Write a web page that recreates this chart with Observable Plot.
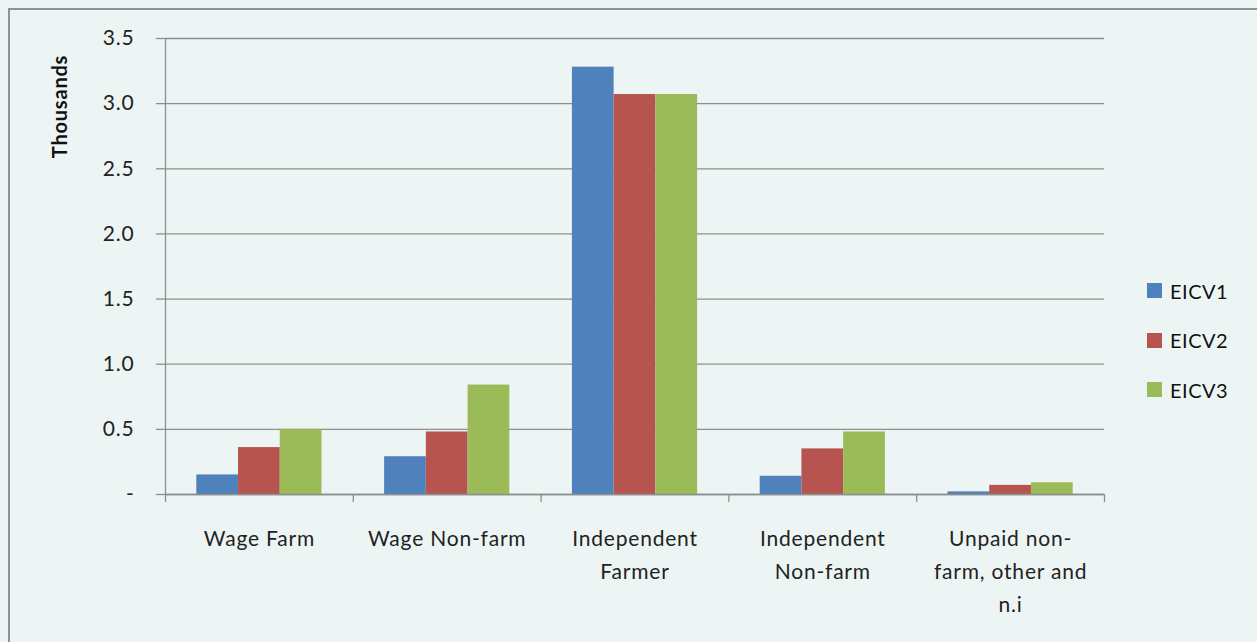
<!DOCTYPE html>
<html>
<head>
<meta charset="utf-8">
<script src="https://cdn.jsdelivr.net/npm/d3@7"></script>
<script src="https://cdn.jsdelivr.net/npm/@observablehq/plot@0.6"></script>
<style>
  html, body { margin: 0; padding: 0; background: #edf5f4; overflow: hidden; }
  body { width: 1257px; height: 642px; position: relative; font-family: Lato, "Open Sans", sans-serif; }
  #frame { position: absolute; left: 8px; top: 8px; width: 1400px; height: 800px; border: 2px solid #8e9494; box-sizing: border-box; }
  #chart { position: absolute; left: 0; top: 0; }
  #legend { position: absolute; left: 1147px; top: 266px; font-size: 20px; color: #111; letter-spacing: 0.5px; }
  .item { display: flex; align-items: center; height: 49.5px; }
  .sw { width: 15px; height: 15px; margin-right: 8px; }
</style>
</head>
<body>
<div id="frame"></div>
<div id="chart"></div>
<div id="legend"></div>
<script>
const categories = ["Wage Farm", "Wage Non-farm", "Independent Farmer", "Independent Non-farm", "Unpaid non-farm, other and n.i"];
const categoryLabels = ["Wage Farm", "Wage Non-farm", "Independent\nFarmer", "Independent\nNon-farm", "Unpaid non-\nfarm, other and\nn.i"];
const series = ["EICV1", "EICV2", "EICV3"];
const colors = ["#4f81bd", "#b85450", "#9bbb59"];
const eicv1 = [0.15, 0.29, 3.28, 0.14, 0.02];
const eicv2 = [0.36, 0.48, 3.07, 0.35, 0.07];
const eicv3 = [0.50, 0.84, 3.07, 0.48, 0.09];
const yTicks = [0, 0.5, 1.0, 1.5, 2.0, 2.5, 3.0, 3.5];

const valuesBySeries = [eicv1, eicv2, eicv3];
const data = [];
categories.forEach((c, ci) => {
  series.forEach((s, si) => {
    data.push({category: c, ci, series: s, si, value: valuesBySeries[si][ci]});
  });
});

// group occupies 2/3 of each category slot, centred
const groupPad = 1 / 6;
const barW = (1 - 2 * groupPad) / series.length;

const axisColor = "#8c8f8f";

const chart = Plot.plot({
  width: 1257,
  height: 642,
  marginLeft: 165,
  marginRight: 153,
  marginTop: 38,
  marginBottom: 148,
  style: {background: "transparent", fontFamily: "Lato, 'Open Sans', sans-serif", fontSize: "21px", color: "#222", letterSpacing: "0.8px"},
  x: {type: "linear", domain: [0, categories.length], axis: null},
  y: {domain: [0, 3.5], axis: null},
  color: {domain: series, range: colors},
  marks: [
    Plot.gridY(yTicks, {stroke: axisColor, strokeOpacity: 1, strokeWidth: 1.3}),
    Plot.axisY({ticks: yTicks, tickSize: 9, tickPadding: 22, stroke: axisColor, strokeWidth: 1.3,
      tickFormat: d => d === 0 ? "-" : d.toFixed(1), fontSize: 21, fill: "#222", label: null}),
    Plot.rectY(data, {
      x1: d => d.ci + groupPad + d.si * barW,
      x2: d => d.ci + groupPad + (d.si + 1) * barW,
      y: "value",
      fill: "series"
    }),
    Plot.ruleX([0], {stroke: axisColor, strokeWidth: 1.3}),
    Plot.ruleY([0], {stroke: axisColor, strokeWidth: 1.3}),
    Plot.axisX({ticks: d3.range(0, categories.length + 1), tickSize: 8, tickFormat: () => "", stroke: axisColor, strokeWidth: 1.3, label: null}),
    Plot.text(categoryLabels, {
      x: (d, i) => i + 0.5,
      frameAnchor: "bottom",
      lineAnchor: "top",
      dy: 28,
      lineHeight: 1.57,
      text: d => d,
      fontSize: 21,
      fill: "#222"
    }),
    Plot.text(["Thousands"], {
      frameAnchor: "top-left",
      textAnchor: "middle",
      lineAnchor: "middle",
      dx: -105,
      dy: 68,
      rotate: -90,
      text: d => d,
      fontSize: 20,
      fontWeight: "bold",
      fill: "#111"
    })
  ]
});
document.getElementById("chart").appendChild(chart);

const legend = document.getElementById("legend");
series.forEach((s, i) => {
  const item = document.createElement("div");
  item.className = "item";
  const sw = document.createElement("div");
  sw.className = "sw";
  sw.style.background = colors[i];
  const label = document.createElement("span");
  label.textContent = s;
  item.appendChild(sw);
  item.appendChild(label);
  legend.appendChild(item);
});
</script>
</body>
</html>
